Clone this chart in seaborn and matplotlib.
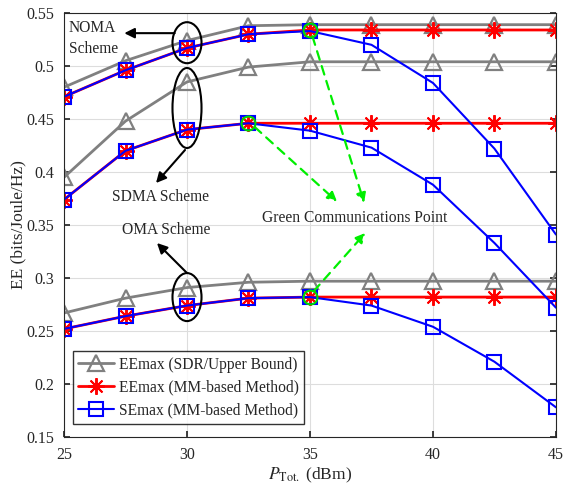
import numpy as np
import pandas as pd
import seaborn as sns
import matplotlib.pyplot as plt
from matplotlib.patches import Ellipse
from matplotlib.lines import Line2D

sns.set_theme(style="white")
plt.rcParams['font.family'] = ['Liberation Serif', 'DejaVu Serif']
plt.rcParams['mathtext.fontset'] = 'stix'

p_tot = [25, 27.5, 30, 32.5, 35, 37.5, 40, 42.5, 45]

noma_ub = [0.480, 0.505, 0.524, 0.538, 0.539, 0.539, 0.539, 0.539, 0.539]
noma_ee = [0.471, 0.496, 0.517, 0.530, 0.534, 0.534, 0.534, 0.534, 0.534]
noma_se = [0.471, 0.496, 0.517, 0.530, 0.533, 0.520, 0.484, 0.422, 0.341]

sdma_ub = [0.395, 0.448, 0.485, 0.499, 0.504, 0.504, 0.504, 0.504, 0.504]
sdma_ee = [0.374, 0.420, 0.440, 0.446, 0.446, 0.446, 0.446, 0.446, 0.446]
sdma_se = [0.374, 0.420, 0.440, 0.446, 0.439, 0.423, 0.388, 0.333, 0.272]

oma_ub = [0.267, 0.281, 0.291, 0.296, 0.297, 0.297, 0.297, 0.297, 0.297]
oma_ee = [0.252, 0.264, 0.274, 0.281, 0.282, 0.282, 0.282, 0.282, 0.282]
oma_se = [0.252, 0.264, 0.274, 0.281, 0.282, 0.274, 0.254, 0.221, 0.178]

legend_labels = ["EEmax (SDR/Upper Bound)", "EEmax (MM-based Method)", "SEmax (MM-based Method)"]
ytick_vals = [0.15, 0.2, 0.25, 0.3, 0.35, 0.4, 0.45, 0.5, 0.55]
ytick_labels = ['0.15', '0.2', '0.25', '0.3', '0.35', '0.4', '0.45', '0.5', '0.55']
xtick_vals = [25, 30, 35, 40, 45]

fig = plt.figure(figsize=(5.7, 4.84), dpi=100)
ax = fig.add_axes([0.1123, 0.0971, 0.8631, 0.876])

gray = '#808080'
red = '#ff0000'
blue = '#0000ff'
asterisk = (8, 2, 0)
fs = 11.2

styles = {
    'ub': dict(color=gray, marker='^', markersize=11.5, markerfacecolor='none',
               markeredgecolor=gray, markeredgewidth=1.6, linewidth=2.0),
    'ee': dict(color=red, marker=asterisk, markersize=12, markeredgecolor=red,
               markeredgewidth=1.4, linewidth=2.0),
    'se': dict(color=blue, marker='s', markersize=10, markerfacecolor='none',
               markeredgecolor=blue, markeredgewidth=1.5, linewidth=1.5),
}

for kind, series in [('ub', [noma_ub, sdma_ub, oma_ub]),
                     ('ee', [noma_ee, sdma_ee, oma_ee]),
                     ('se', [noma_se, sdma_se, oma_se])]:
    for s in series:
        df = pd.DataFrame({'x': p_tot, 'y': s})
        sns.lineplot(data=df, x='x', y='y', ax=ax, legend=False, **styles[kind])

ax.set_xlim(25, 45)
ax.set_ylim(0.15, 0.55)
ax.set_xticks(xtick_vals)
ax.set_yticks(ytick_vals)
ax.set_yticklabels(ytick_labels)
ax.grid(True, color='#dddddd', linewidth=0.8)
ax.set_axisbelow(True)
for sp in ax.spines.values():
    sp.set_color('#262626')
    sp.set_linewidth(0.8)
ax.tick_params(direction='in', length=4, labelsize=11.5, colors='#262626', top=False, right=True,
               bottom=True, left=True, pad=7)
ax.set_xlabel(r'$P_{\mathrm{Tot.}}$ (dBm)', fontsize=12.5, labelpad=2)
ax.set_ylabel('EE (bits/Joule/Hz)', fontsize=12.5)
ax.yaxis.set_label_coords(-0.076, 0.5)

# green circles at green communication points
for (gx, gy) in [(32.5, sdma_ee[3]), (35, noma_ee[4]), (35, oma_ee[4])]:
    ax.plot(gx, gy, 'o', markersize=10, markerfacecolor='none', markeredgecolor='#00dd00',
            markeredgewidth=1.5, zorder=6)

# ellipses
for (cx, cy, w, h) in [(30, 0.522, 1.18, 0.0387), (30, 0.4604, 1.18, 0.0755), (30, 0.282, 1.18, 0.0453)]:
    ax.add_patch(Ellipse((cx, cy), w, h, fill=False, edgecolor='black', linewidth=1.5, zorder=7))

arrow_k = dict(arrowstyle='-|>', color='black', lw=1.5, mutation_scale=15, shrinkA=0, shrinkB=0)
ax.annotate('', xy=(27.45, 0.531), xytext=(29.5, 0.531), arrowprops=arrow_k)
ax.annotate('', xy=(28.74, 0.3896), xytext=(29.92, 0.4208), arrowprops=arrow_k)
ax.annotate('', xy=(28.78, 0.333), xytext=(30.0, 0.3047), arrowprops=arrow_k)

ax.text(25.2, 0.5435, 'NOMA\nScheme', fontsize=fs, ha='left', va='top', linespacing=1.45)
ax.text(28.94, 0.3764, 'SDMA Scheme', fontsize=fs, ha='center', va='center')
ax.text(29.17, 0.3453, 'OMA Scheme', fontsize=fs, ha='center', va='center')
ax.text(36.83, 0.3566, 'Green Communications Point', fontsize=fs, ha='center', va='center')

garrow = dict(arrowstyle='-|>', color='#00ee00', lw=1.6, linestyle=(0, (4, 3)), mutation_scale=14,
              shrinkA=0, shrinkB=0)
ax.annotate('', xy=(36.1, 0.372), xytext=(32.75, 0.4425), arrowprops=garrow)
ax.annotate('', xy=(37.2, 0.371), xytext=(35.1, 0.528), arrowprops=garrow)
ax.annotate('', xy=(37.25, 0.3425), xytext=(35.15, 0.2875), arrowprops=garrow)

handles = [Line2D([], [], **styles['ub']), Line2D([], [], **styles['ee']), Line2D([], [], **styles['se'])]
leg = ax.legend(handles, legend_labels, loc='lower left', bbox_to_anchor=(0.018, 0.03),
                fontsize=fs, frameon=True, fancybox=False, edgecolor='black',
                handlelength=2.3, borderpad=0.35, labelspacing=0.45, handletextpad=0.3,
                borderaxespad=0.0)
leg.get_frame().set_linewidth(1.0)

fig.savefig('out.png', dpi=100)
